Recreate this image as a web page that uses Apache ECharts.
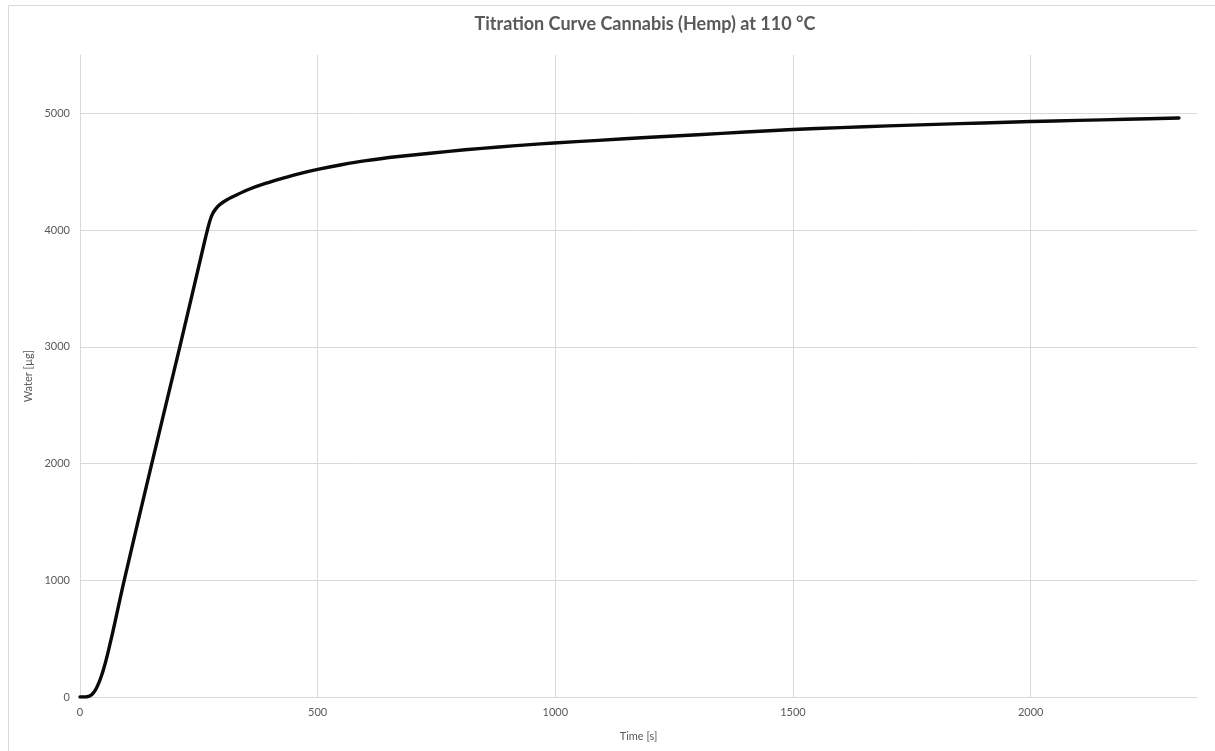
<!DOCTYPE html>
<html>
<head>
<meta charset="utf-8">
<title>Titration Curve Cannabis (Hemp) at 110 °C</title>
<script src="https://cdn.jsdelivr.net/npm/echarts@6/dist/echarts.min.js"></script>
<style>
  html, body { margin: 0; padding: 0; background: #ffffff; }
  #chart { width: 1215px; height: 751px; }
</style>
</head>
<body>
<div id="chart"></div>
<script>
// Titration run: elapsed time [s] and cumulative water found [µg]
const timeSec = [0, 10, 15, 20, 25, 30, 35, 40, 45, 50, 55, 60, 65, 70, 93, 151, 210, 262, 268,
  272, 276, 280, 286, 294, 310, 330, 357, 390, 427, 460, 500, 550, 602, 670, 742, 810, 881, 940, 997,
  1091, 1200, 1300, 1400, 1500, 1600, 1700, 1800, 1900, 2000, 2100, 2200, 2312];
const waterUg = [0, 0, 2, 8, 22, 45, 80, 125, 180, 245, 318, 400, 487, 575, 1000, 2000, 3000, 3900, 4000,
  4062, 4112, 4148, 4184, 4218, 4262, 4303, 4352, 4400, 4445, 4482, 4520, 4560, 4595, 4630, 4661, 4688, 4712, 4730, 4746,
  4769, 4795, 4817, 4840, 4862, 4878, 4893, 4906, 4918, 4930, 4940, 4949, 4960];

const xTicks = [0, 500, 1000, 1500, 2000];
const yTicks = [0, 1000, 2000, 3000, 4000, 5000];

const titleText = 'Titration Curve Cannabis (Hemp) at 110 °C';
const xName = 'Time [s]';
const yName = 'Water [µg]';

const points = timeSec.map((t, i) => [t, waterUg[i]]);

const FONT = 'Lato, "Open Sans", sans-serif';
const GRID_COLOR = '#d9d9d9';
const TEXT_COLOR = '#595959';

const chart = echarts.init(document.getElementById('chart'), null, { renderer: 'canvas' });

chart.setOption({
  backgroundColor: '#ffffff',
  animation: false,
  textStyle: { fontFamily: FONT },
  graphic: [
    {
      type: 'rect',
      silent: true,
      shape: { x: 8.5, y: 5.5, width: 1230, height: 760 },
      style: { fill: 'none', stroke: GRID_COLOR, lineWidth: 1 }
    },
    {
      type: 'text',
      x: 645,
      y: 24,
      style: {
        text: titleText,
        font: 'bold 18px ' + FONT,
        fill: TEXT_COLOR,
        textAlign: 'center',
        textVerticalAlign: 'middle'
      }
    }
  ],
  grid: { left: 80, right: 18, top: 55, bottom: 54, containLabel: false },
  xAxis: {
    type: 'value',
    min: 0,
    max: 2350,
    interval: 500,
    name: xName,
    nameLocation: 'middle',
    nameGap: 34,
    nameTextStyle: { color: TEXT_COLOR, fontSize: 11, fontFamily: FONT },
    axisLine: { show: true, onZero: false, lineStyle: { color: GRID_COLOR, width: 1 } },
    axisTick: { show: false },
    axisLabel: {
      color: TEXT_COLOR, fontSize: 11, fontFamily: FONT, margin: 10,
      formatter: v => (xTicks.includes(v) ? String(v) : '')
    },
    splitLine: { show: true, showMaxLine: false, lineStyle: { color: GRID_COLOR, width: 1 } }
  },
  yAxis: {
    type: 'value',
    min: 0,
    max: 5500,
    interval: 1000,
    name: yName,
    nameLocation: 'middle',
    nameGap: 45,
    nameRotate: 90,
    nameTextStyle: { color: TEXT_COLOR, fontSize: 11, fontFamily: FONT },
    axisLine: { show: true, lineStyle: { color: GRID_COLOR, width: 1 } },
    axisTick: { show: false },
    axisLabel: {
      color: TEXT_COLOR, fontSize: 11, fontFamily: FONT, margin: 10,
      formatter: v => (yTicks.includes(v) ? String(v) : '')
    },
    splitLine: { show: true, showMaxLine: false, lineStyle: { color: GRID_COLOR, width: 1 } }
  },
  series: [
    {
      type: 'line',
      data: points,
      smooth: 0.3,
      showSymbol: false,
      symbol: 'none',
      lineStyle: { color: '#0a0a0a', width: 3.4, cap: 'round', join: 'round' }
    }
  ]
});
</script>
</body>
</html>
